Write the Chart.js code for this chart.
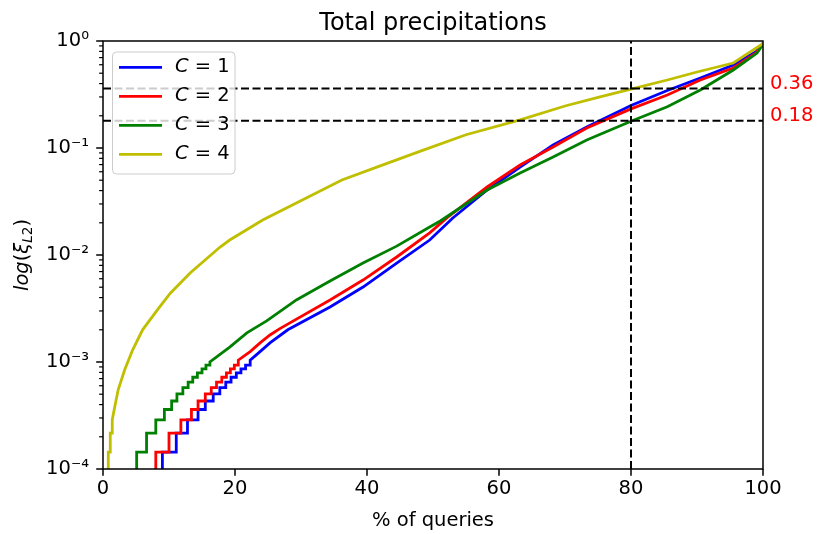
<!DOCTYPE html>
<html>
<head>
<meta charset="utf-8">
<script src="https://cdn.jsdelivr.net/npm/chart.js@4"></script>
<style>
  html, body { margin: 0; padding: 0; background: #fff; }
</style>
</head>
<body>
<canvas id="chart" width="817" height="534"></canvas>
<script>
// series (x = % of queries, y = error)
const chartTitle = 'Total precipitations';
const seriesLabels = ['C = 1', 'C = 2', 'C = 3', 'C = 4'];
const seriesColors = ['#0000ff', '#ff0000', '#008000', '#bfbf00'];

const xC1 = [9.0, 9.0, 11.1, 11.1, 12.8, 12.8, 14.4, 14.4, 15.5, 15.5, 16.7, 16.7, 17.7, 17.7, 18.6, 18.6, 19.4, 19.4, 20.2, 20.2, 20.9, 20.9, 21.6, 21.6, 22.3, 22.3,
  23.8, 25.3, 28.0, 34.4, 39.4, 44.5, 49.5, 53.0, 58.2, 63.2, 68.2, 73.3, 80.0, 85.5, 90.5, 95.5, 99.0, 100];
const yC1 = [9e-5, 1.44e-4, 1.44e-4, 2.16e-4, 2.16e-4, 2.88e-4, 2.88e-4, 3.6e-4, 3.6e-4, 4.32e-4, 4.32e-4, 5.04e-4, 5.04e-4, 5.76e-4, 5.76e-4, 6.48e-4, 6.48e-4, 7.2e-4, 7.2e-4, 7.92e-4, 7.92e-4, 8.64e-4, 8.64e-4, 9.36e-4, 9.36e-4, 1.04e-3,
  1.25e-3, 1.51e-3, 2.0e-3, 3.27e-3, 5.02e-3, 8.41e-3, 1.38e-2, 2.22e-2, 4.05e-2, 6.64e-2, 0.107, 0.157, 0.25, 0.345, 0.451, 0.597, 0.80, 0.95];

const xC2 = [8.0, 8.0, 10.0, 10.0, 11.8, 11.8, 13.4, 13.4, 14.4, 14.4, 15.5, 15.5, 16.4, 16.4, 17.2, 17.2, 18.0, 18.0, 18.7, 18.7, 19.3, 19.3, 19.9, 19.9, 20.5, 20.5,
  22.3, 23.8, 25.3, 26.8, 34.4, 39.4, 44.5, 49.5, 52.1, 58.2, 63.2, 68.2, 73.3, 80.0, 85.5, 90.5, 95.5, 99.0, 100];
const yC2 = [9e-5, 1.44e-4, 1.44e-4, 2.16e-4, 2.16e-4, 2.88e-4, 2.88e-4, 3.6e-4, 3.6e-4, 4.32e-4, 4.32e-4, 5.04e-4, 5.04e-4, 5.76e-4, 5.76e-4, 6.48e-4, 6.48e-4, 7.2e-4, 7.2e-4, 7.92e-4, 7.92e-4, 8.64e-4, 8.64e-4, 9.36e-4, 9.36e-4, 1.04e-3,
  1.25e-3, 1.51e-3, 1.79e-3, 2.05e-3, 3.8e-3, 5.83e-3, 9.58e-3, 1.61e-2, 2.22e-2, 4.32e-2, 6.93e-2, 0.102, 0.154, 0.232, 0.313, 0.432, 0.56, 0.78, 0.95];

const xC3 = [5.1, 5.1, 6.6, 6.6, 8.0, 8.0, 9.3, 9.3, 10.4, 10.4, 11.2, 11.2, 12.1, 12.1, 12.9, 12.9, 13.6, 13.6, 14.3, 14.3, 15.0, 15.0, 15.6, 15.6, 16.2, 16.2,
  19.2, 21.8, 24.8, 29.3, 34.4, 39.4, 44.5, 49.5, 51.1, 58.2, 63.2, 68.2, 73.3, 80.0, 85.5, 90.5, 95.5, 99.1, 100];
const yC3 = [9e-5, 1.44e-4, 1.44e-4, 2.16e-4, 2.16e-4, 2.88e-4, 2.88e-4, 3.6e-4, 3.6e-4, 4.32e-4, 4.32e-4, 5.04e-4, 5.04e-4, 5.76e-4, 5.76e-4, 6.48e-4, 6.48e-4, 7.2e-4, 7.2e-4, 7.92e-4, 7.92e-4, 8.64e-4, 8.64e-4, 9.36e-4, 9.36e-4, 1.0e-3,
  1.38e-3, 1.87e-3, 2.42e-3, 3.8e-3, 5.71e-3, 8.41e-3, 1.21e-2, 1.83e-2, 2.08e-2, 4.05e-2, 5.84e-2, 8.24e-2, 0.119, 0.178, 0.243, 0.348, 0.536, 0.772, 0.93];

const xC4 = [0.8, 0.8, 1.1, 1.1, 1.4, 1.4, 1.7, 2.3, 3.3, 4.5, 6.0, 8.3, 10.2, 13.2, 17.7, 19.2, 24.2, 29.3, 36.2, 42.0, 48.0, 55.0, 63.2, 70.0, 75.3, 80.0, 85.5, 90.0, 95.5, 99.8, 100];
const yC4 = [9e-5, 1.44e-4, 1.44e-4, 2.16e-4, 2.16e-4, 2.88e-4, 3.6e-4, 5.5e-4, 8.5e-4, 1.3e-3, 2.0e-3, 3.1e-3, 4.4e-3, 6.8e-3, 1.18e-2, 1.38e-2, 2.12e-2, 3.06e-2, 5.02e-2, 0.068, 9.3e-2, 0.133, 0.183, 0.247, 0.30, 0.355, 0.432, 0.513, 0.623, 0.93, 0.96];

const refLevels = [0.36, 0.18];
const refQuery = 80;
const xTicks = [0, 20, 40, 60, 80, 100];
const yDecades = [1e-4, 1e-3, 1e-2, 1e-1, 1];
const yTickLabels = ['10⁻⁴', '10⁻³', '10⁻²', '10⁻¹', '10⁰'];

const FONT = "'DejaVu Sans', sans-serif";
Chart.defaults.font.family = FONT;
Chart.defaults.color = '#000';

function pts(xs, ys) { return xs.map((x, i) => ({ x: x, y: ys[i] })); }

function seg(ctx, x1, y1, x2, y2) {
  ctx.beginPath(); ctx.moveTo(x1, y1); ctx.lineTo(x2, y2); ctx.stroke();
}

const curves = [[xC1, yC1], [xC2, yC2], [xC3, yC3], [xC4, yC4]].map(function (s, i) {
  return {
    label: seriesLabels[i],
    data: pts(s[0], s[1]),
    borderColor: seriesColors[i],
    borderWidth: 2.8,
    pointRadius: 0,
    tension: 0,
    fill: false,
    order: 4 - i,
    clip: 0
  };
});

const guides = refLevels.map(v => ({
  label: '',
  data: [{ x: 0, y: v }, { x: 100, y: v }],
  borderColor: '#000', borderWidth: 2, borderDash: [8, 3.5],
  pointRadius: 0, order: 0, clip: 0
}));
guides.push({
  label: '',
  data: [{ x: refQuery, y: 1e-4 }, { x: refQuery, y: 1 }],
  borderColor: '#000', borderWidth: 2, borderDash: [8, 3.5],
  pointRadius: 0, order: 0, clip: 0
});

// title, frame, tick marks, legend box, red level labels, y label with subscript
const decor = {
  id: 'decor',
  afterDatasetsDraw(chart) {
    const { ctx, chartArea: a, scales: { x, y } } = chart;
    ctx.save();

    ctx.fillStyle = '#000';
    ctx.font = '24px ' + FONT;
    ctx.textAlign = 'center';
    ctx.textBaseline = 'alphabetic';
    ctx.fillText(chartTitle, (a.left + a.right) / 2, 30);

    ctx.strokeStyle = '#000';
    ctx.lineWidth = 1.2;
    for (let d = 0; d < yDecades.length - 1; d++) {
      for (let m = 2; m <= 9; m++) {
        const py = y.getPixelForValue(yDecades[d] * m);
        seg(ctx, a.left - 3.9, py, a.left, py);
      }
    }
    ctx.lineWidth = 1.5;
    yDecades.forEach(v => {
      const py = y.getPixelForValue(v);
      seg(ctx, a.left - 6.8, py, a.left, py);
    });
    xTicks.forEach(v => {
      const px = x.getPixelForValue(v);
      seg(ctx, px, a.bottom, px, a.bottom + 6.8);
    });
    ctx.strokeRect(a.left, a.top, a.right - a.left, a.bottom - a.top);

    // red labels beside the dashed levels
    ctx.fillStyle = '#ff0000';
    ctx.font = '19.5px ' + FONT;
    ctx.textAlign = 'left';
    ctx.textBaseline = 'middle';
    refLevels.forEach(v => ctx.fillText(v.toFixed(2), a.right + 7, y.getPixelForValue(v) - 4.5));

    // legend
    const lx = a.left + 9.5, ly = a.top + 11, lw = 122.5, lh = 122, r = 4;
    ctx.beginPath();
    ctx.moveTo(lx + r, ly);
    ctx.lineTo(lx + lw - r, ly); ctx.quadraticCurveTo(lx + lw, ly, lx + lw, ly + r);
    ctx.lineTo(lx + lw, ly + lh - r); ctx.quadraticCurveTo(lx + lw, ly + lh, lx + lw - r, ly + lh);
    ctx.lineTo(lx + r, ly + lh); ctx.quadraticCurveTo(lx, ly + lh, lx, ly + lh - r);
    ctx.lineTo(lx, ly + r); ctx.quadraticCurveTo(lx, ly, lx + r, ly);
    ctx.closePath();
    ctx.fillStyle = 'rgba(255,255,255,0.8)';
    ctx.fill();
    ctx.strokeStyle = '#cccccc';
    ctx.lineWidth = 1;
    ctx.stroke();
    curves.forEach((ds, i) => {
      const ry = ly + 15.3 + i * 29;
      ctx.strokeStyle = ds.borderColor;
      ctx.lineWidth = 2.8;
      seg(ctx, lx + 6.5, ry, lx + 49.5, ry);
      const sym = ds.label.charAt(0), rest = ds.label.slice(1);
      ctx.fillStyle = '#000';
      ctx.font = 'italic 19.5px ' + FONT;
      ctx.fillText(sym, lx + 62.5, ry);
      const w = ctx.measureText(sym).width;
      ctx.font = '19.5px ' + FONT;
      ctx.fillText(rest, lx + 62.5 + w, ry);
    });

    // y axis label log(ξ_L2)
    const parts = [
      ['log', 'italic 19.5px ', 0], ['(', '19.5px ', 0], ['ξ', 'italic 19.5px ', 0],
      ['L', 'italic 13.6px ', 4], ['2', '13.6px ', 4], [')', '19.5px ', 0]
    ];
    ctx.translate(22, (a.top + a.bottom) / 2);
    ctx.rotate(-Math.PI / 2);
    ctx.textBaseline = 'alphabetic';
    let total = 0;
    parts.forEach(p => { ctx.font = p[1] + FONT; total += ctx.measureText(p[0]).width; });
    let cx = -total / 2;
    ctx.fillStyle = '#000';
    parts.forEach(p => {
      ctx.font = p[1] + FONT;
      ctx.fillText(p[0], cx, 6 + p[2]);
      cx += ctx.measureText(p[0]).width;
    });
    ctx.restore();
  }
};

new Chart(document.getElementById('chart'), {
  type: 'line',
  data: { datasets: curves.concat(guides) },
  options: {
    responsive: false,
    animation: false,
    layout: { padding: { left: 0, right: 54, top: 41, bottom: 0 } },
    plugins: {
      legend: { display: false },
      tooltip: { enabled: false },
      title: { display: false }
    },
    scales: {
      x: {
        type: 'linear',
        min: 0, max: 100,
        afterBuildTicks: s => { s.ticks = xTicks.map(v => ({ value: v })); },
        afterFit: s => { s.height = 65; },
        grid: { display: false, drawTicks: false },
        border: { display: false },
        ticks: { font: { size: 19.5 }, padding: 8, maxRotation: 0, autoSkip: false },
        title: { display: true, text: '% of queries', font: { size: 19.5 }, padding: { top: 0, bottom: 1 } }
      },
      y: {
        type: 'logarithmic',
        min: 1e-4, max: 1,
        afterBuildTicks: s => { s.ticks = yDecades.map(v => ({ value: v })); },
        afterFit: s => { s.width = 103; },
        grid: { display: false, drawTicks: false },
        border: { display: false },
        ticks: {
          font: { size: 19.5 }, padding: 14, autoSkip: false,
          callback: v => yTickLabels[yDecades.indexOf(v)]
        }
      }
    }
  },
  plugins: [decor]
});
</script>
</body>
</html>
